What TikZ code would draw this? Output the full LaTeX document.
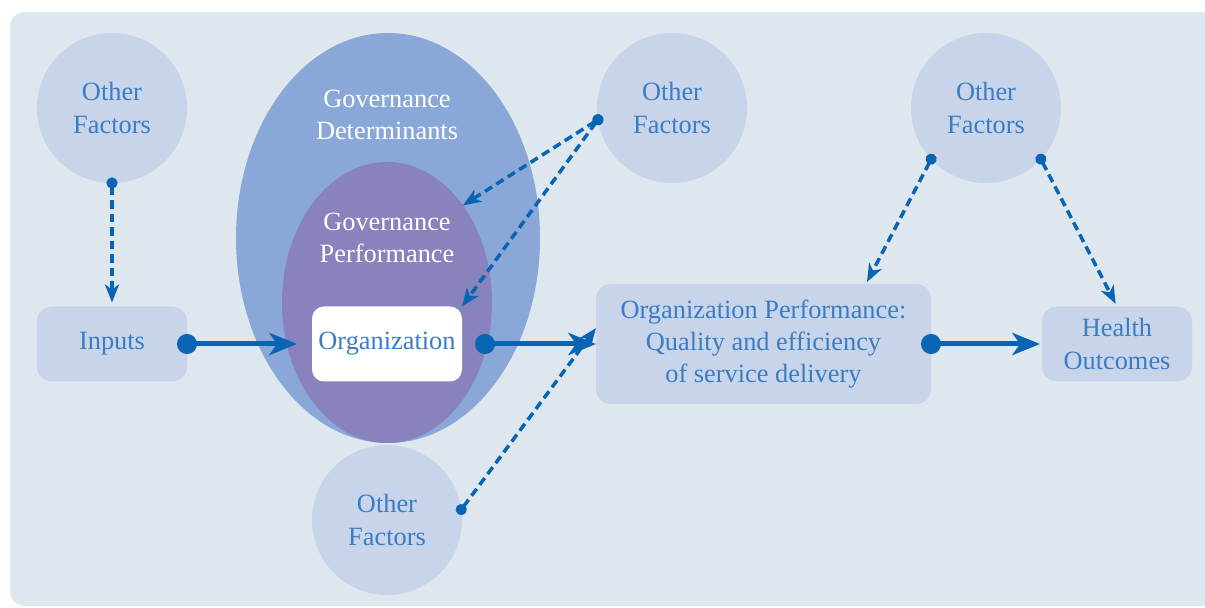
\documentclass[tikz,border=0pt]{standalone}
\usepackage{fontspec}
\setmainfont{Liberation Serif}
\usepackage{tikz}
\usetikzlibrary{arrows.meta, shapes.geometric}
\definecolor{panelbg}{HTML}{DFE7EE}
\definecolor{lightfill}{HTML}{C7D4EA}
\definecolor{detfill}{HTML}{8AA8D7}
\definecolor{perffill}{HTML}{8882BD}
\definecolor{txtblue}{HTML}{3B7DC4}
\definecolor{arrowblue}{HTML}{0A64B4}

\begin{document}
\begin{tikzpicture}[x=2cm, y=-2cm,
		font=\fontsize{15}{18.4}\selectfont,
		factor/.style={circle, fill=lightfill, text=txtblue, minimum size=3cm, inner sep=0pt, outer sep=0pt, align=center},
		stagebox/.style={rounded corners=0.3cm, fill=lightfill, text=txtblue, minimum width=3cm, minimum height=1.5cm, inner sep=0pt, outer sep=0pt, align=center},
		flow/.style={arrowblue, line width=0.1cm, {Circle[length=0.4cm]}-{Stealth[length=0.55cm, width=0.44cm, inset=0.15cm]}, shorten <=-0.2cm},
		infl/.style={arrowblue, line width=0.07cm, dash pattern=on 0.17cm off 0.1cm, {Circle[length=0.22cm]}-{Stealth[length=0.36cm, width=0.28cm, inset=0.1cm]}, shorten <=-0.11cm}]
		\useasboundingbox(0, 0)rectangle(12.05, 6.08);
		\fill[panelbg, rounded corners=0.3cm](0.10, 0.12)rectangle(12.40, 6.06);
		% governance ellipses
		\node[ellipse, fill=detfill, minimum width=6.08cm, minimum height=8.2cm, inner sep=0pt, outer sep=0pt](gdet)at(3.88, 2.38){};
		\node[ellipse, fill=perffill, minimum width=4.2cm, minimum height=5.62cm, inner sep=0pt, outer sep=0pt](gperf)at(3.87, 3.025){};
		\node[text=white, align=center](gdetlabel)at(3.87, 1.15){Governance\\Determinants};
		\node[text=white, align=center](gperflabel)at(3.87, 2.38){Governance\\Performance};
		% other factors
		\node[factor](of1)at(1.12, 1.08){Other\\Factors};
		\node[factor](of2)at(6.72, 1.08){Other\\Factors};
		\node[factor](of3)at(9.86, 1.08){Other\\Factors};
		\node[factor](of4)at(3.87, 5.20){Other\\Factors};
		% chain
		\node[stagebox](inputs)at(1.12, 3.44){Inputs};
		\node[stagebox, fill=white, rounded corners=0.24cm](org)at(3.87, 3.44){Organization};
		\node[stagebox, minimum width=6.7cm, minimum height=2.4cm](orgperf)at(7.635, 3.44){Organization Performance:\\Quality and efficiency\\of service delivery};
		\node[stagebox](health)at(11.17, 3.44){Health\\Outcomes};
		\coordinate(orgout)at(4.85, 3.44);
		\coordinate(opleft)at(5.96, 3.28);
		\coordinate(optop)at(8.67, 2.82);
		\draw[flow, shorten >=0.3cm](inputs.east)--(org.west);
		\draw[flow](orgout)--(orgperf.west);
		\draw[flow, shorten >=0.04cm](orgperf.east)--(health.west);
		\draw[infl, shorten >=0.08cm](of1.south)--(inputs.north);
		\draw[infl](of2.189)--(gperf.52);
		\draw[infl](of2.189)--(org.north east);
		\draw[infl](of4.8)--(opleft);
		\draw[infl](of3.223)--(optop);
		\draw[infl, shorten >=0.06cm](of3.317)--(health.north);
	\end{tikzpicture}
\end{document}
